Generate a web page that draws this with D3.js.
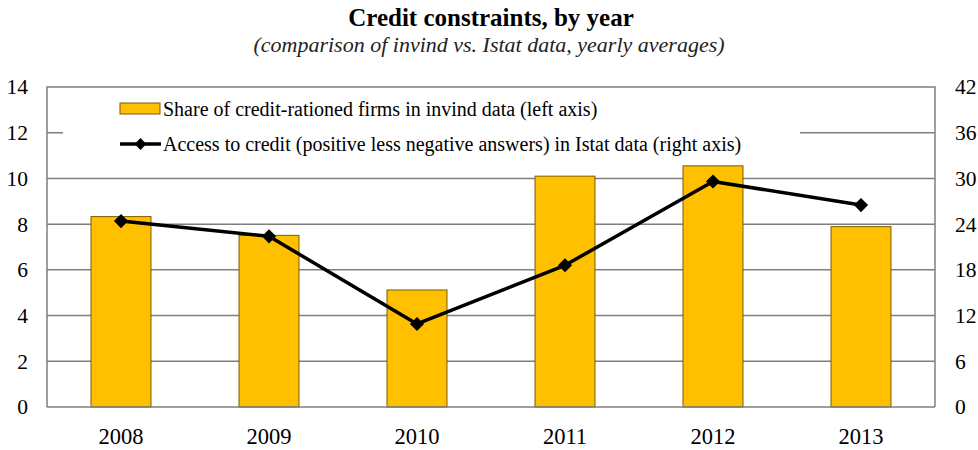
<!DOCTYPE html>
<html><head><meta charset="utf-8">
<script src="https://cdn.jsdelivr.net/npm/d3@7"></script>
<style>body{margin:0;background:#fff}svg{display:block}</style>
</head><body>
<svg id="c" width="978" height="450"></svg>
<script>
const years = ["2008","2009","2010","2011","2012","2013"];
const invindShare = [8.33, 7.51, 5.12, 10.1, 10.55, 7.89];
const istatAccess = [24.4, 22.4, 10.9, 18.6, 29.6, 26.5];
const leftTicks = [0,2,4,6,8,10,12,14];
const rightTicks = [0,6,12,18,24,30,36,42];
const title = "Credit constraints, by year";
const subtitle = "(comparison of invind vs. Istat data, yearly averages)";
const legendLabels = ["Share of credit-rationed firms in invind data (left axis)",
  "Access to credit (positive less negative answers) in Istat data (right axis)"];

const svg = d3.select("#c");
const font = "'Liberation Serif', serif";
const m = {l:47, r:935, t:87, b:407};
const x = d3.scaleBand().domain(years).range([m.l, m.r]).paddingInner(0.595).paddingOuter(0.2975);
const yL = d3.scaleLinear().domain([0,14]).range([m.b, m.t]);
const yR = d3.scaleLinear().domain([0,42]).range([m.b, m.t]);
const grid = "#7f7f7f";

// title
svg.append("text").attr("x", 491).attr("y", 26).attr("text-anchor","middle")
  .attr("font-family", font).attr("font-weight","bold").attr("font-size", 25).attr("fill","#000").text(title);
svg.append("text").attr("x", 489).attr("y", 52).attr("text-anchor","middle")
  .attr("font-family", font).attr("font-style","italic").attr("font-size", 22).attr("fill","#222").text(subtitle);

// gridlines
svg.append("g").selectAll("line").data(leftTicks.filter(d=>d>0 && d<14)).join("line")
  .attr("x1", m.l).attr("x2", m.r).attr("y1", d=>yL(d)).attr("y2", d=>yL(d))
  .attr("stroke", grid).attr("stroke-width", 1.5);

// legend background (hides gridline under legend)
svg.append("rect").attr("x", 63).attr("y", 92).attr("width", 737).attr("height", 72).attr("fill","#fff");

// frame
svg.append("path").attr("d", `M${m.l},${m.b}V${m.t}H${m.r}V${m.b}`).attr("fill","none")
  .attr("stroke", grid).attr("stroke-width", 1.5);

// bars
svg.append("g").selectAll("rect").data(years).join("rect")
  .attr("x", d=>x(d)).attr("width", x.bandwidth())
  .attr("y", (d,i)=>yL(invindShare[i])).attr("height", (d,i)=>yL(0)-yL(invindShare[i]))
  .attr("fill","#ffc000").attr("stroke","#7a5c00").attr("stroke-width",1);

// baseline
svg.append("line").attr("x1", m.l).attr("x2", m.r).attr("y1", m.b).attr("y2", m.b)
  .attr("stroke", grid).attr("stroke-width", 1.5);

// line
const cx = d => x(d) + x.bandwidth()/2;
const line = d3.line().x(d=>cx(d[0])).y(d=>yR(d[1]));
svg.append("path").datum(years.map((y,i)=>[y, istatAccess[i]])).attr("d", line)
  .attr("fill","none").attr("stroke","#000").attr("stroke-width",3.5).attr("stroke-linejoin","round");
svg.append("g").selectAll("path").data(years).join("path")
  .attr("transform", (d,i)=>`translate(${cx(d)},${yR(istatAccess[i])}) rotate(45)`)
  .attr("d", d3.symbol().type(d3.symbolSquare).size(100)).attr("fill","#000");

// axes
const axL = svg.append("g").attr("transform", `translate(${m.l},0)`)
  .call(d3.axisLeft(yL).tickValues(leftTicks).tickSize(0).tickPadding(19));
const axR = svg.append("g").attr("transform", `translate(${m.r},0)`)
  .call(d3.axisRight(yR).tickValues(rightTicks).tickSize(0).tickPadding(20));
const axB = svg.append("g").attr("transform", `translate(0,${m.b})`)
  .call(d3.axisBottom(x).tickSize(0).tickPadding(21));
[axL, axR, axB].forEach(a => {
  a.select(".domain").remove();
  a.selectAll("text").attr("font-family", font).attr("font-size", 21.5).attr("fill","#000");
});
axB.selectAll("text").attr("font-size", 22.5);

// legend
const lg = svg.append("g").attr("font-family", font).attr("font-size", 20);
lg.append("rect").attr("x", 120).attr("y", 103).attr("width", 40).attr("height", 11)
  .attr("fill","#ffc000").attr("stroke","#7a5c00").attr("stroke-width",1);
lg.append("text").attr("x", 163).attr("y", 116).text(legendLabels[0]);
lg.append("line").attr("x1",120).attr("x2",161).attr("y1",144).attr("y2",144).attr("stroke","#000").attr("stroke-width",3.5);
lg.append("path").attr("transform","translate(140.5,144) rotate(45)").attr("d", d3.symbol().type(d3.symbolSquare).size(70)).attr("fill","#000");
lg.append("text").attr("x", 163).attr("y", 151).text(legendLabels[1]);
</script>
</body></html>
